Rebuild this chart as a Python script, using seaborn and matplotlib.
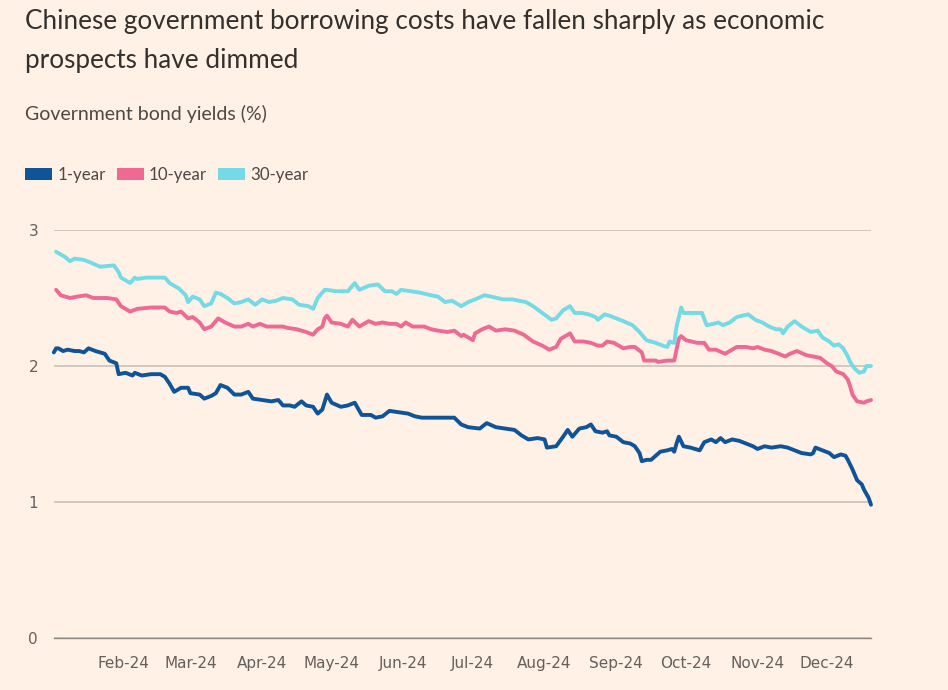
import numpy as np
import pandas as pd
import matplotlib
matplotlib.use("Agg")
import matplotlib.pyplot as plt
import seaborn as sns
from matplotlib.patches import Patch

# ---------------- data ----------------
series_names = ["1-year", "10-year", "30-year"]
series_colors = ["#0F5499", "#EE6A93", "#74DBE6"]

# days since 2024-01-01
days_1y = [1, 2, 3, 5, 7, 10, 12, 14, 16, 19,
           23, 25, 28, 29, 32, 35, 36, 39, 43, 47,
           49, 51, 53, 56, 59, 60, 64, 66, 69, 71,
           73, 76, 79, 82, 85, 87, 91, 95, 98, 100,
           103, 105, 108, 110, 113, 115, 117, 119, 121, 125,
           128, 131, 134, 138, 140, 143, 146, 150, 154, 157,
           160, 165, 170, 174, 177, 180, 185, 188, 192, 196,
           200, 203, 206, 210, 213, 214, 218, 221, 223, 225,
           228, 231, 233, 235, 238, 240, 241, 244, 247, 250,
           252, 254, 255, 257, 259, 261, 263, 266, 268, 269,
           270, 271, 273, 276, 280, 282, 285, 287, 289, 291,
           294, 297, 300, 303, 305, 308, 311, 315, 318, 321,
           324, 328, 329, 330, 333, 336, 338, 341, 343, 344,
           346, 348, 350, 351, 353, 354]
yield_1y = [2.10, 2.13, 2.13, 2.11, 2.12, 2.11, 2.11, 2.10, 2.13, 2.11,
            2.09, 2.04, 2.02, 1.94, 1.95, 1.93, 1.95, 1.93, 1.94, 1.94,
            1.92, 1.87, 1.81, 1.84, 1.84, 1.80, 1.79, 1.76, 1.78, 1.80,
            1.86, 1.84, 1.79, 1.79, 1.81, 1.76, 1.75, 1.74, 1.75, 1.71,
            1.71, 1.70, 1.74, 1.71, 1.70, 1.65, 1.68, 1.79, 1.73, 1.70,
            1.71, 1.73, 1.64, 1.64, 1.62, 1.63, 1.67, 1.66, 1.65, 1.63,
            1.62, 1.62, 1.62, 1.62, 1.57, 1.55, 1.54, 1.58, 1.55, 1.54,
            1.53, 1.49, 1.46, 1.47, 1.46, 1.40, 1.41, 1.48, 1.53, 1.48,
            1.54, 1.55, 1.57, 1.52, 1.51, 1.52, 1.49, 1.48, 1.44, 1.43,
            1.41, 1.36, 1.30, 1.31, 1.31, 1.34, 1.37, 1.38, 1.39, 1.37,
            1.43, 1.48, 1.41, 1.40, 1.38, 1.44, 1.46, 1.44, 1.47, 1.44,
            1.46, 1.45, 1.43, 1.41, 1.39, 1.41, 1.40, 1.41, 1.40, 1.38,
            1.36, 1.35, 1.36, 1.40, 1.38, 1.36, 1.33, 1.35, 1.34, 1.31,
            1.24, 1.16, 1.13, 1.09, 1.03, 0.98]

days_10y = [2, 4, 8, 11, 15, 18, 24, 28, 30, 34,
            37, 43, 49, 51, 54, 56, 59, 61, 64, 66,
            69, 72, 75, 79, 82, 85, 87, 90, 93, 97,
            100, 102, 106, 110, 113, 115, 117, 118, 119, 121,
            125, 128, 130, 133, 137, 140, 143, 146, 149, 151,
            153, 156, 161, 164, 167, 171, 174, 177, 178, 182,
            183, 186, 189, 192, 196, 200, 204, 208, 212, 215,
            218, 220, 224, 226, 230, 233, 236, 238, 240, 243,
            247, 250, 252, 255, 256, 261, 262, 266, 269, 271,
            272, 274, 279, 282, 284, 287, 291, 293, 296, 300,
            303, 305, 308, 311, 314, 317, 319, 322, 326, 329,
            332, 335, 337, 339, 342, 344, 345, 346, 348, 351,
            352, 354]
yield_10y = [2.56, 2.52, 2.50, 2.51, 2.52, 2.50, 2.50, 2.49, 2.44, 2.40,
             2.42, 2.43, 2.43, 2.40, 2.39, 2.40, 2.35, 2.36, 2.32, 2.27,
             2.29, 2.35, 2.32, 2.29, 2.29, 2.31, 2.29, 2.31, 2.29, 2.29,
             2.29, 2.28, 2.27, 2.25, 2.23, 2.27, 2.29, 2.35, 2.37, 2.32,
             2.31, 2.29, 2.34, 2.29, 2.33, 2.31, 2.32, 2.31, 2.31, 2.29,
             2.32, 2.29, 2.29, 2.27, 2.26, 2.25, 2.26, 2.22, 2.23, 2.19,
             2.24, 2.27, 2.29, 2.26, 2.27, 2.26, 2.23, 2.18, 2.15, 2.12,
             2.14, 2.20, 2.24, 2.18, 2.18, 2.17, 2.15, 2.15, 2.18, 2.17,
             2.13, 2.14, 2.14, 2.10, 2.04, 2.04, 2.03, 2.04, 2.04, 2.20,
             2.22, 2.19, 2.17, 2.17, 2.12, 2.12, 2.09, 2.11, 2.14, 2.14,
             2.13, 2.14, 2.12, 2.11, 2.09, 2.07, 2.09, 2.11, 2.08, 2.07,
             2.06, 2.02, 2.00, 1.96, 1.94, 1.90, 1.85, 1.79, 1.74, 1.73,
             1.74, 1.75]

days_30y = [2, 6, 8, 10, 14, 17, 21, 27, 29, 30,
            34, 36, 37, 41, 49, 51, 55, 58, 59, 61,
            64, 66, 69, 71, 73, 76, 79, 82, 85, 88,
            91, 94, 97, 100, 104, 107, 111, 113, 115, 118,
            119, 123, 126, 128, 131, 133, 137, 141, 144, 147,
            149, 151, 155, 159, 164, 167, 170, 173, 177, 180,
            183, 187, 190, 195, 199, 205, 208, 212, 216, 218,
            221, 224, 226, 229, 232, 235, 236, 239, 241, 244,
            247, 251, 254, 257, 261, 264, 266, 267, 269, 270,
            272, 273, 276, 281, 283, 286, 288, 290, 293, 296,
            301, 304, 307, 310, 313, 315, 316, 318, 321, 324,
            328, 331, 333, 336, 338, 340, 342, 344, 345, 347,
            349, 351, 352, 354]
yield_30y = [2.84, 2.80, 2.77, 2.79, 2.78, 2.76, 2.73, 2.74, 2.69, 2.65,
             2.61, 2.65, 2.64, 2.65, 2.65, 2.61, 2.57, 2.52, 2.47, 2.51,
             2.49, 2.44, 2.46, 2.54, 2.53, 2.50, 2.46, 2.47, 2.49, 2.45,
             2.49, 2.47, 2.48, 2.50, 2.49, 2.45, 2.44, 2.42, 2.50, 2.56,
             2.56, 2.55, 2.55, 2.55, 2.61, 2.56, 2.59, 2.60, 2.55, 2.55,
             2.53, 2.56, 2.55, 2.54, 2.52, 2.51, 2.47, 2.48, 2.44, 2.47,
             2.49, 2.52, 2.51, 2.49, 2.49, 2.47, 2.44, 2.39, 2.34, 2.35,
             2.41, 2.44, 2.39, 2.39, 2.38, 2.36, 2.34, 2.38, 2.37, 2.35,
             2.33, 2.30, 2.25, 2.19, 2.17, 2.15, 2.14, 2.18, 2.17, 2.29,
             2.43, 2.39, 2.39, 2.39, 2.30, 2.31, 2.32, 2.30, 2.32, 2.36,
             2.38, 2.34, 2.32, 2.29, 2.27, 2.27, 2.24, 2.29, 2.33, 2.29,
             2.25, 2.26, 2.21, 2.18, 2.15, 2.16, 2.13, 2.07, 2.03, 1.98,
             1.95, 1.96, 2.00, 2.00]

tick_dates = ["2024-02-01", "2024-03-01", "2024-04-01", "2024-05-01",
              "2024-06-01", "2024-07-01", "2024-08-01", "2024-09-01",
              "2024-10-01", "2024-11-01", "2024-12-01"]
tick_labels = ["Feb-24", "Mar-24", "Apr-24", "May-24", "Jun-24", "Jul-24",
               "Aug-24", "Sep-24", "Oct-24", "Nov-24", "Dec-24"]
y_ticks = [0, 1, 2, 3]

title_text = ("Chinese government borrowing costs have fallen sharply as economic\n"
              "prospects have dimmed")
subtitle_text = "Government bond yields (%)"

# ---------------- build frame ----------------
base = pd.Timestamp("2024-01-01")
frames = []
for name, d, v in [("1-year", days_1y, yield_1y),
                   ("10-year", days_10y, yield_10y),
                   ("30-year", days_30y, yield_30y)]:
    frames.append(pd.DataFrame({
        "date": base + pd.to_timedelta(d, unit="D"),
        "yield": v,
        "series": name,
    }))
df = pd.concat(frames, ignore_index=True)

# ---------------- style ----------------
BG = "#FFF1E5"
sns.set_theme(style="white", rc={"axes.facecolor": BG, "figure.facecolor": BG})
plt.rcParams["font.family"] = ["DejaVu Sans"]

W, H = 948, 690
fig = plt.figure(figsize=(W / 100, H / 100), dpi=100)
ax_left, ax_right, ax_bottom, ax_top = 53.8, 871, 638, 230
ax = fig.add_axes([ax_left / W, (H - ax_bottom) / H,
                   (ax_right - ax_left) / W, (ax_bottom - ax_top) / H])
ax.set_facecolor(BG)

palette = dict(zip(series_names, series_colors))
sns.lineplot(data=df, x="date", y="yield", hue="series", hue_order=series_names,
             palette=palette, estimator=None, linewidth=2.8, legend=False, ax=ax)
for ln in ax.get_lines():
    ln.set_clip_on(False)
    ln.set_solid_joinstyle("round")

ax.set_xlim(base + pd.Timedelta(days=1), base + pd.Timedelta(days=354))
ax.set_ylim(0, 3)
ax.set_xlabel("")
ax.set_ylabel("")

# grid
ax.set_yticks(y_ticks)
ax.set_yticklabels([str(t) for t in y_ticks])
ax.yaxis.grid(True, color="#CEC4B8", linewidth=1.3)
ax.xaxis.grid(False)
ax.set_axisbelow(True)
for s in ["top", "right", "left"]:
    ax.spines[s].set_visible(False)
ax.spines["bottom"].set_color("#8F8984")
ax.spines["bottom"].set_linewidth(1.0)

ax.set_xticks(pd.to_datetime(tick_dates))
ax.set_xticklabels(tick_labels)
ax.tick_params(axis="x", direction="out", length=5, width=1, color="#8F8984",
               pad=8, labelsize=11, labelcolor="#66605C")
ax.tick_params(axis="y", length=0, pad=0, labelsize=11, labelcolor="#66605C")
for lab in ax.get_yticklabels():
    lab.set_horizontalalignment("left")
    lab.set_x(-0.031)

# titles (va='baseline' anchors the last line's baseline)
fig.text(25 / W, 1 - 68 / H, title_text, ha="left", va="baseline",
         fontsize=18.8, color="#33302E", family=["Lato", "DejaVu Sans"],
         linespacing=1.72)
fig.text(25 / W, 1 - 120 / H, subtitle_text, ha="left", va="baseline",
         fontsize=14, color="#4D4845", family=["Lato", "DejaVu Sans"])

# legend
handles = [Patch(facecolor=c, edgecolor="none", label=n)
           for n, c in zip(series_names, series_colors)]
leg = fig.legend(handles=handles, loc="center left",
                 bbox_to_anchor=(25 / W, 1 - 175 / H), ncol=3, frameon=False,
                 handlelength=1.6, handleheight=0.75, handletextpad=0.3,
                 columnspacing=0.65, borderpad=0, borderaxespad=0,
                 prop={"family": ["Lato", "DejaVu Sans"], "size": 12.2})
for t in leg.get_texts():
    t.set_color("#4D4845")

fig.savefig("out.png", dpi=100, facecolor=BG)
